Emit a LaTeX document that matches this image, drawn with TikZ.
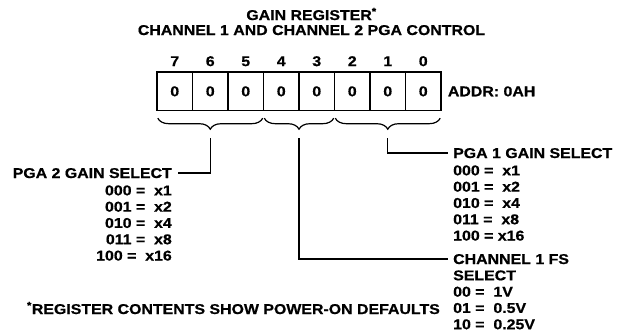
\documentclass[tikz,border=0pt]{standalone}
\usepackage{fontspec}
\setmainfont{Liberation Sans}[FakeStretch=1.12, BoldFeatures={FakeBold=0.6}]
\usepackage{tikz}
\usetikzlibrary{positioning,calc,decorations.pathreplacing}
\tikzset{
  reg/cell/.style={draw, line width=1.4pt, minimum width=35.5pt, minimum height=38.5pt, inner sep=0pt, text height=10pt, text depth=0pt},
  reg/bit/.style={inner sep=0pt, text height=10pt, text depth=0pt},
  reg/label/.style={inner sep=0pt, text height=10pt, text depth=0pt},
  reg/values/.style={inner sep=0pt},
  reg/brace/.style={decorate, decoration={brace, mirror, amplitude=11pt}, line width=1.2pt},
  reg/line/.style={line width=1.4pt}
}

\begin{document}
\begin{tikzpicture}[x=1pt, y=-1pt, font=\fontsize{14.2}{16.3}\selectfont\bfseries]
\path[use as bounding box, fill=white] (0,0) rectangle (628,332);
\node[reg/label, anchor=base] (title) at (311.5,20) {GAIN REGISTER\textsuperscript{*}};
\node[reg/label, anchor=base] (subtitle) at (311.5,35) {CHANNEL 1 AND CHANNEL 2 PGA CONTROL};
\foreach \b [count=\i from 0] in {7,6,...,0} {
  \node[reg/cell] (b\b) at (174.75+35.5*\i, 91.25) {0};
  \node[reg/bit, above=5pt of b\b] (n\b) {\b};
}
\node[reg/label, right=6pt of b0] (addr) {ADDR: 0AH};
\draw[reg/brace] ([xshift=1.5pt,yshift=-7pt]b7.south west) -- ([xshift=-1.5pt,yshift=-7pt]b5.south east);
\draw[reg/brace] ([xshift=1.5pt,yshift=-7pt]b4.south west) -- ([xshift=-1.5pt,yshift=-7pt]b3.south east);
\draw[reg/brace] ([xshift=1.5pt,yshift=-7pt]b2.south west) -- ([xshift=-1.5pt,yshift=-7pt]b0.south east);
\coordinate (t2) at ($(b7.south west)!0.5!(b5.south east)+(0,27)$);
\coordinate (tc) at ($(b4.south west)!0.5!(b3.south east)+(0,27)$);
\coordinate (t1) at ($(b2.south west)!0.5!(b0.south east)+(0,27)$);
\node[reg/label, anchor=east] (pga2) at (172,173) {PGA 2 GAIN SELECT};
\node[reg/values, align=right, below=7pt of pga2.south east, anchor=north east] (pga2v) {000 = \ x1\\001 = \ x2\\010 = \ x4\\011 = \ x8\\100 = \ x16};
\node[reg/label, anchor=west] (pga1) at (453,153) {PGA 1 GAIN SELECT};
\node[reg/values, align=left, below=7pt of pga1.south west, anchor=north west] (pga1v) {000 = \ x1\\001 = \ x2\\010 = \ x4\\011 = \ x8\\100 = x16};
\node[reg/label, anchor=west] (chan) at (453,259) {CHANNEL 1 FS};
\node[reg/values, align=left, below=6pt of chan.south west, anchor=north west] (chanv) {SELECT\\00 = \ 1V\\01 = \ 0.5V\\10 = \ 0.25V};
\node[reg/label, anchor=base east] (note) at (440,314) {\textsuperscript{*}REGISTER CONTENTS SHOW POWER-ON DEFAULTS};
\draw[reg/line] (t2) |- ([xshift=6pt]pga2.east);
\draw[reg/line] (t1) |- ([xshift=-5pt]pga1.west);
\draw[reg/line] (tc) |- ([xshift=-5pt]chan.west);
\end{tikzpicture}
\end{document}
